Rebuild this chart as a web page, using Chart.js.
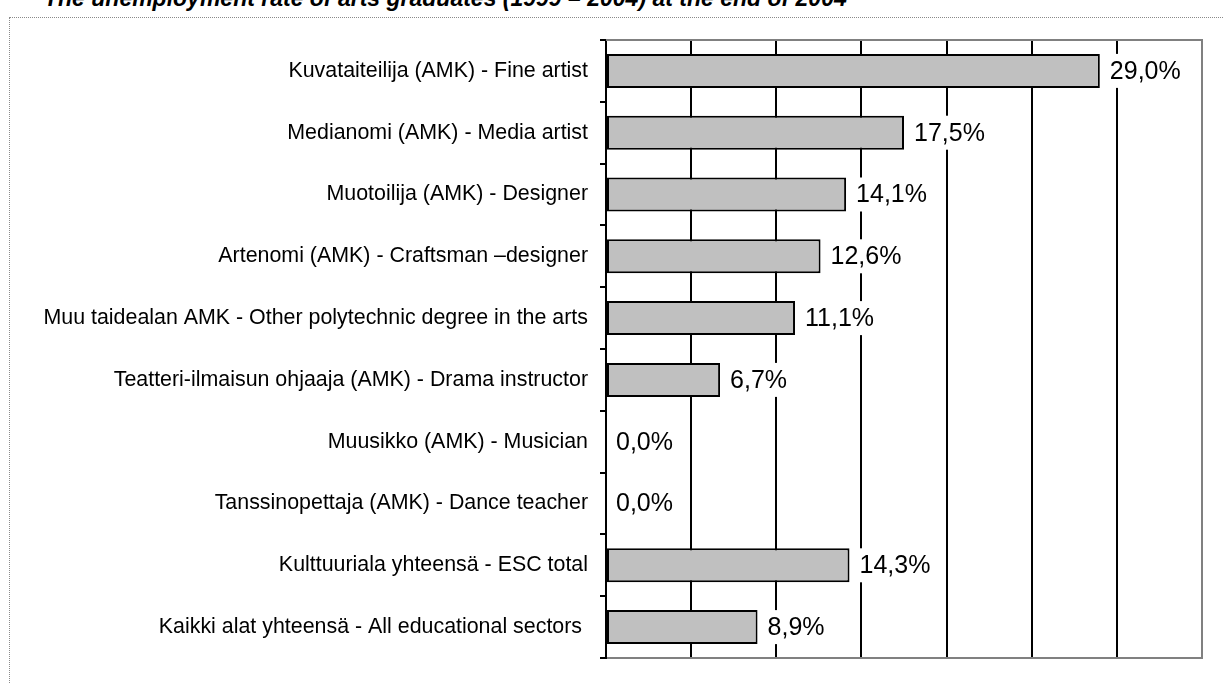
<!DOCTYPE html>
<html>
<head>
<meta charset="utf-8">
<script src="https://cdn.jsdelivr.net/npm/chart.js@4/dist/chart.umd.min.js"></script>
<style>
  body { margin: 0; background: #fff; overflow: hidden; }
  #frame { position: absolute; left: 9px; top: 17px; width: 2000px; height: 2000px; border: 1px dotted #8a8a8a; }
  #title { position: absolute; left: 44px; top: -13px; font: italic bold 23px "Liberation Sans", Arial, sans-serif; line-height: 23px; white-space: nowrap; color: #000; }
  #chart { position: absolute; left: 0; top: 0; }
</style>
</head>
<body>
<div id="frame"></div>
<div id="title">The unemployment rate of arts graduates (1999 – 2004) at the end of 2004</div>
<canvas id="chart" width="1223" height="684"></canvas>
<script>
var categories = [
    "Kuvataiteilija (AMK) - Fine artist",
    "Medianomi (AMK) - Media artist",
    "Muotoilija (AMK) - Designer",
    "Artenomi (AMK) - Craftsman –designer",
    "Muu taidealan AMK - Other polytechnic degree in the arts",
    "Teatteri-ilmaisun ohjaaja (AMK) - Drama instructor",
    "Muusikko (AMK) - Musician",
    "Tanssinopettaja (AMK) - Dance teacher",
    "Kulttuuriala yhteensä - ESC total",
    "Kaikki alat yhteensä - All educational sectors "
];
var rates = [29.0, 17.5, 14.1, 12.6, 11.1, 6.7, 0.0, 0.0, 14.3, 8.9];
var xMin = 0, xMax = 35, xStep = 5;

function pct(v) {
    return v.toFixed(1).replace('.', ',') + '%';
}

// value labels to the right of each bar, on a white box (hides the grid)
var barLabels = {
    id: 'barLabels',
    afterDatasetsDraw: function(chart) {
        var ctx = chart.ctx;
        var meta = chart.getDatasetMeta(0);
        ctx.save();
        ctx.font = '25px "Liberation Sans", Arial, sans-serif';
        ctx.textAlign = 'left';
        ctx.textBaseline = 'middle';
        meta.data.forEach(function(bar, i) {
            var txt = pct(rates[i]);
            var w = ctx.measureText(txt).width;
            var x = bar.x + 10;
            ctx.fillStyle = '#fff';
            ctx.fillRect(x - 4, bar.y - 17, w + 8, 34);
            ctx.fillStyle = '#000';
            ctx.fillText(txt, x, bar.y + 1);
        });
        ctx.restore();
    }
};

// grey top edge of the plot box
var topEdge = {
    id: 'topEdge',
    beforeDatasetsDraw: function(chart) {
        var a = chart.chartArea, ctx = chart.ctx;
        ctx.save();
        ctx.strokeStyle = '#808080';
        ctx.lineWidth = 2;
        ctx.beginPath();
        ctx.moveTo(a.left, a.top);
        ctx.lineTo(a.right + 1, a.top);
        ctx.stroke();
        ctx.restore();
    }
};

new Chart(document.getElementById('chart'), {
    type: 'bar',
    data: {
        labels: categories,
        datasets: [{
            data: rates,
            backgroundColor: '#c0c0c0',
            borderColor: '#000',
            borderWidth: 2,
            borderSkipped: false,
            barPercentage: 0.55,
            categoryPercentage: 1
        }]
    },
    options: {
        indexAxis: 'y',
        responsive: false,
        animation: false,
        layout: { padding: { left: 0, right: 21, top: 40, bottom: 26 } },
        plugins: {
            legend: { display: false },
            tooltip: { enabled: false }
        },
        scales: {
            x: {
                min: xMin,
                max: xMax,
                ticks: { display: false, stepSize: xStep },
                grid: {
                    drawTicks: false,
                    lineWidth: 2,
                    color: function(c) { return c.tick && c.tick.value === xMax ? '#808080' : '#000'; }
                },
                border: { display: true, color: '#808080', width: 2 },
                afterFit: function(s) { s.height = 0; }
            },
            y: {
                grid: {
                    offset: true,
                    drawOnChartArea: false,
                    tickLength: 6,
                    lineWidth: 2,
                    color: '#000'
                },
                border: { color: '#000', width: 2 },
                ticks: {
                    color: '#000',
                    padding: 12,
                    font: { family: '"Liberation Sans", Arial, sans-serif', size: 21.4 }
                },
                afterFit: function(s) { s.width = 606; }
            }
        }
    },
    plugins: [topEdge, barLabels]
});
</script>
</body>
</html>
